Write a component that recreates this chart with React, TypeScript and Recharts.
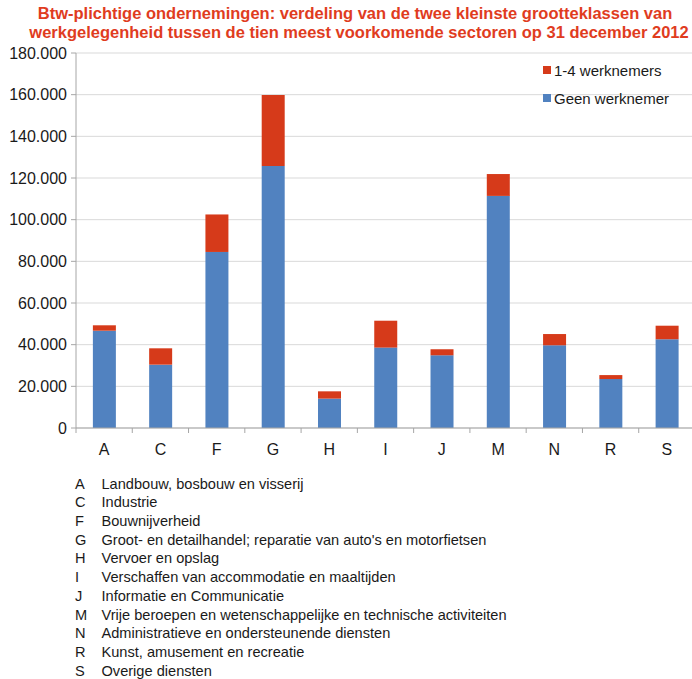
import { BarChart, Bar, XAxis, YAxis, CartesianGrid, Legend } from 'recharts'

// sectorcodes en waarden
const sectors = ['A', 'C', 'F', 'G', 'H', 'I', 'J', 'M', 'N', 'R', 'S']
const geenWerknemer = [46700, 30400, 84500, 125800, 14100, 38600, 34900, 111400, 39700, 23500, 42600]
const eenTotVier = [2600, 7850, 18000, 34000, 3500, 12900, 2900, 10500, 5400, 1900, 6500]
const yTicks = [0, 20000, 40000, 60000, 80000, 100000, 120000, 140000, 160000, 180000]

const sectorNames = [
  'Landbouw, bosbouw en visserij',
  'Industrie',
  'Bouwnijverheid',
  "Groot- en detailhandel; reparatie van auto's en motorfietsen",
  'Vervoer en opslag',
  'Verschaffen van accommodatie en maaltijden',
  'Informatie en Communicatie',
  'Vrije beroepen en wetenschappelijke en technische activiteiten',
  'Administratieve en ondersteunende diensten',
  'Kunst, amusement en recreatie',
  'Overige diensten',
]

const titleLines = [
  'Btw-plichtige ondernemingen: verdeling van de twee kleinste grootteklassen van',
  'werkgelegenheid tussen de tien meest voorkomende sectoren op 31 december 2012',
]

const RED = '#d63a1a'
const BLUE = '#5182c0'
const FONT = '"Liberation Sans", Arial, sans-serif'

const CHART_W = 695
const Y_AXIS_W = 76
const BAND = (CHART_W - Y_AXIS_W) / sectors.length

const data = sectors.map((s, i) => ({
  sector: s,
  geen: geenWerknemer[i],
  klein: eenTotVier[i],
}))

const formatY = (v: number) => String(v).replace(/\B(?=(\d{3})+(?!\d))/g, '.')

function XTick({ x, y, payload }: any) {
  const bx = x - BAND / 2
  return (
    <g>
      <line x1={bx} y1={y - 5} x2={bx} y2={y} stroke="#a6a6a6" />
      <text x={x} y={y + 11} dy="0.71em" textAnchor="middle" fontSize={16} fill="#1a1a1a" fontFamily={FONT}>
        {payload.value}
      </text>
    </g>
  )
}

function LegendBox() {
  const items = [
    { label: '1-4 werknemers', color: RED },
    { label: 'Geen werknemer', color: BLUE },
  ]
  return (
    <div style={{ fontFamily: FONT, fontSize: 15, color: '#1a1a1a' }}>
      {items.map((it) => (
        <div key={it.label} style={{ display: 'flex', alignItems: 'center', height: 28 }}>
          <span style={{ width: 8, height: 8, background: it.color, marginRight: 3, display: 'inline-block' }} />
          <span>{it.label}</span>
        </div>
      ))}
    </div>
  )
}

export default function App() {
  return (
    <div style={{ position: 'absolute', top: 0, left: 0, width: 692, height: 679, overflow: 'hidden', background: '#fff', fontFamily: FONT }}>
      {titleLines.map((line, i) => (
        <div
          key={i}
          style={{
            position: 'absolute',
            top: 4 + i * 19,
            left: 0,
            width: i === 0 ? 710 : 718,
            textAlign: 'center',
            color: '#e03c1e',
            fontWeight: 'bold',
            fontSize: 16.5,
            lineHeight: '19px',
            whiteSpace: 'nowrap',
          }}
        >
          {line}
        </div>
      ))}

      <div style={{ position: 'absolute', top: 0, left: 0 }}>
        <BarChart
          width={CHART_W}
          height={462}
          data={data}
          margin={{ top: 53, right: 0, left: 0, bottom: 0 }}
          barCategoryGap="30%"
        >
          <CartesianGrid vertical={false} stroke="#d9d9d9" />
          <XAxis
            dataKey="sector"
            height={34}
            stroke="#a6a6a6"
            tickLine={false}
            tickSize={5}
            tickMargin={0}
            tick={<XTick />}
            interval={0}
          />
          <YAxis
            width={Y_AXIS_W}
            domain={[0, 180000]}
            ticks={yTicks}
            tickFormatter={formatY}
            stroke="#a6a6a6"
            tickSize={5}
            tickMargin={4}
            tick={{ fontSize: 16, fill: '#1a1a1a', fontFamily: FONT }}
            interval={0}
          />
          <Legend
            layout="vertical"
            align="center"
            verticalAlign="middle"
            content={<LegendBox />}
            wrapperStyle={{ position: 'absolute', top: 56, left: 543, width: 150 }}
          />
          <Bar dataKey="geen" name="Geen werknemer" stackId="a" fill={BLUE} isAnimationActive={false} />
          <Bar dataKey="klein" name="1-4 werknemers" stackId="a" fill={RED} isAnimationActive={false} />
        </BarChart>
      </div>

      <div style={{ position: 'absolute', top: 474.6, left: 75, fontSize: 14.6, lineHeight: '18.7px', color: '#1a1a1a' }}>
        {sectors.map((s, i) => (
          <div key={s} style={{ display: 'flex' }}>
            <span style={{ width: 26.5 }}>{s}</span>
            <span>{sectorNames[i]}</span>
          </div>
        ))}
      </div>
    </div>
  )
}
